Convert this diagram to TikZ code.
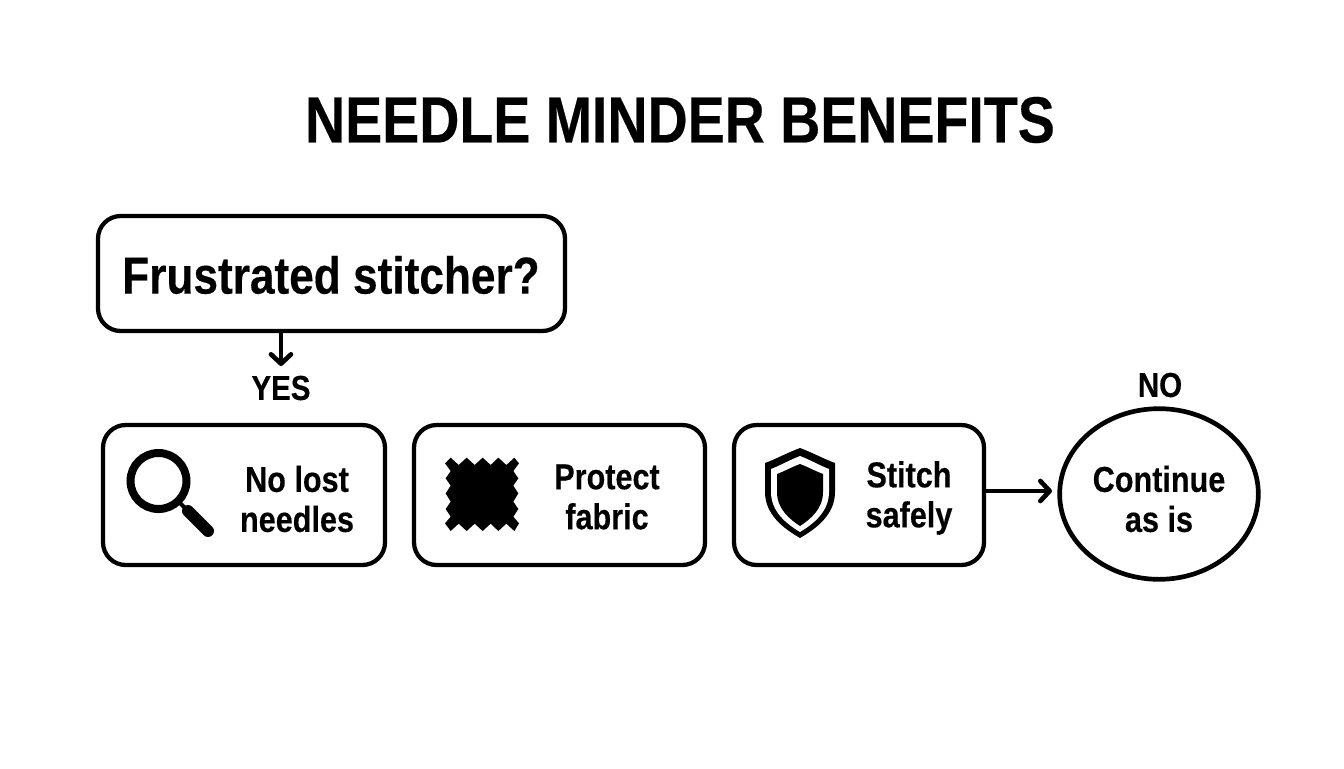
\documentclass[tikz,border=0pt]{standalone}
\usepackage{fontspec}
\setmainfont[FakeStretch=0.85,BoldFont={Liberation Sans Bold},BoldFeatures={FakeBold=0.3}]{Liberation Sans}
\usetikzlibrary{shapes.geometric,arrows.meta}
\newcommand\shld[6]{\fill[#1] (800,#3) .. controls ({800+0.4*#2},{#3+0.35*(#4-#3)}) and ({800+0.7*#2},{#3+0.75*(#4-#3)}) .. ({800+#2},#4) -- ({800+#2},#5) .. controls ({800+#2},{#5+0.5*(#6-#5)}) and ({800+0.45*#2},{#6-0.2*(#6-#5)}) .. (800,#6) .. controls ({800-0.45*#2},{#6-0.2*(#6-#5)}) and ({800-#2},{#5+0.5*(#6-#5)}) .. ({800-#2},#5) -- ({800-#2},#4) .. controls ({800-0.7*#2},{#3+0.75*(#4-#3)}) and ({800-0.4*#2},{#3+0.35*(#4-#3)}) .. cycle;}
\tikzset{
  x=0.75pt,y=-0.75pt,
  box/.style={draw=black,line width=3.2pt,rounded corners=17pt,fill=white,anchor=north west,inner sep=0pt,outer sep=0pt},
  txt/.style={font=\bfseries\fontsize{27pt}{30pt}\selectfont,align=center,inner sep=0pt},
  lab/.style={font=\bfseries\fontsize{26pt}{28pt}\selectfont,inner sep=0pt},
  arr/.style={line width=3.5pt,-{Straight Barb[length=7pt,width=15pt,line width=3.5pt,round]}}
}
\begin{document}
\begin{tikzpicture}
\useasboundingbox (0,0) rectangle (1344,768);
\node[font=\bfseries\fontsize{49pt}{52pt}\selectfont,inner sep=0pt] (title) at (680,120) {NEEDLE MINDER BENEFITS};
\node[box,minimum width=350.25pt,minimum height=86.25pt] (q) at (98,216) {};
\node[font=\bfseries\fontsize{39pt}{42pt}\selectfont,inner sep=0pt] (qt) at (331,275) {Frustrated stitcher?};
\node[lab] (yes) at (281,388) {YES};
\node[box,minimum width=211.5pt,minimum height=105pt] (b1) at (103,425) {};
\node[box,minimum width=218.25pt,minimum height=105pt] (b2) at (414,425) {};
\node[box,minimum width=187.5pt,minimum height=105pt] (b3) at (734,425) {};
\node[txt] (t1) at (297,499) {No lost\\needles};
\node[txt] (t2) at (607,497) {Protect\\fabric};
\node[txt] (t3) at (909,498) {Stitch\\safely};
\node[draw=black,line width=3.5pt,ellipse,minimum width=149pt,minimum height=128pt,inner sep=0pt,outer sep=0pt,fill=white] (c) at (1159,494) {};
\node[txt] (ct) at (1159,499) {Continue\\as is};
\node[lab] (no) at (1160,385) {NO};
\coordinate (qa) at (281,332);
\coordinate (ya) at (281,366);
\coordinate (b3a) at (985,491);
\coordinate (ca) at (1052,491);
\draw[arr] (qa) -- (ya);
\draw[arr] (b3a) -- (ca);
% magnifier
\draw[line width=6pt] (158.5,481) circle (28);
\draw[line width=3pt] (178,501) -- (190,513);
\draw[line width=9pt,line cap=round] (188,511) -- (208,531);
% fabric
\begin{scope}[shift={(435,445)},x=0.25pt,y=-0.25pt]
\fill (30,55) -- (47,38) -- (71,60) -- (95,38) -- (119,60) -- (143,38) -- (167,60) -- (190,38) -- (214,60) -- (238,38) -- (252,55) -- (235,78) -- (250,100) -- (235,122) -- (250,145) -- (235,170) -- (250,192) -- (235,215) -- (252,235) -- (238,258) -- (214,236) -- (190,258) -- (167,236) -- (143,258) -- (119,236) -- (95,258) -- (71,236) -- (47,258) -- (30,235) -- (47,215) -- (32,192) -- (47,170) -- (32,145) -- (47,122) -- (32,100) -- (47,78) -- cycle;
\end{scope}
% shield
\shld{black}{35}{448}{463}{492}{538}
\shld{white}{29}{456}{469}{492}{532}
\shld{black}{23}{464}{474}{492}{526}
\end{tikzpicture}
\end{document}
